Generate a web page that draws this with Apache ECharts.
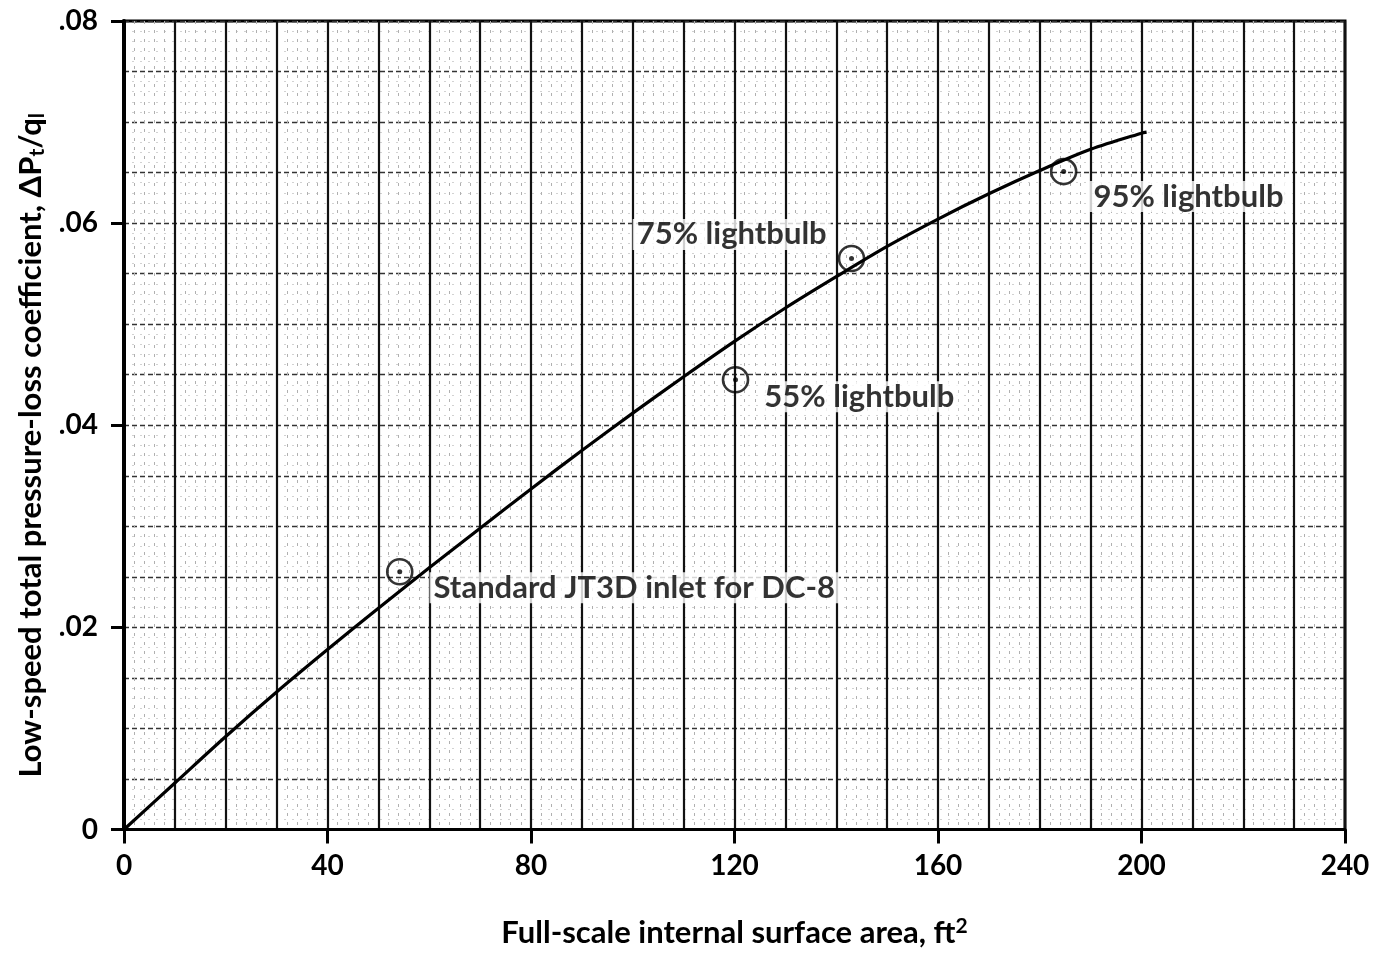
<!DOCTYPE html>
<html>
<head>
<meta charset="utf-8">
<script src="https://cdn.jsdelivr.net/npm/echarts@6/dist/echarts.min.js"></script>
<style>
html,body{margin:0;padding:0;background:#fff;}
#chart{width:1378px;height:955px;}
</style>
</head>
<body>
<div id="chart"></div>
<script>
// Curve
const curveX = [0,10,20,30,40,50,60,70,80,90,100,110,120,130,140,150,160,170,180,190,200,201];
const curveY = [0,0.0046,0.0092,0.0136,0.0178,0.0219,0.0259,0.0298,0.0337,0.0375,0.0412,0.0448,0.0483,0.0516,0.0547,0.0577,0.0604,0.0629,0.0652,0.0673,0.0689,0.0690];
// Data points
const pointNames = ['Standard JT3D inlet for DC-8','55% lightbulb','75% lightbulb','95% lightbulb'];
const pointX = [54.2, 120.2, 143.0, 184.7];
const pointY = [0.0255, 0.0445, 0.0565, 0.0651];
// Tick labels
const xTickLabels = ['0','40','80','120','160','200','240'];
const yTickLabels = ['0','.02','.04','.06','.08'];

const FONT = 'Lato';
const chart = echarts.init(document.getElementById('chart'), null, {renderer:'canvas'});

const labelCfg = [
  {position:'right', offset:[16,16]},
  {position:'right', offset:[11,17]},
  {position:'left', offset:[-7,-24]},
  {position:'right', offset:[12,25]}
];

const pts = pointX.map((x,i)=>({
  value:[x, pointY[i]],
  name: pointNames[i],
  label:{
    show:true,
    position: labelCfg[i].position,
    offset: labelCfg[i].offset,
    distance: 0,
    formatter: '{b}',
    fontFamily: FONT, fontWeight:'bold', fontSize:31, color:'#000',
    backgroundColor:'#fff', padding:[0,4,0,4]
  }
}));

chart.setOption({
  animation:false,
  backgroundColor:'#fff',
  grid:{left:124, right:33, top:21, bottom:125.5, show:true, borderColor:'#000', borderWidth:3, backgroundColor:'#fff'},
  xAxis:[
    {
      type:'value', min:0, max:240, interval:40,
      name:'Full-scale internal surface area, ft{sup|2}',
      nameLocation:'middle', nameGap:86,
      nameTextStyle:{fontFamily:FONT, fontWeight:'bold', fontSize:31, color:'#000',
        rich:{sup:{fontFamily:FONT, fontWeight:'bold', fontSize:21, color:'#000', verticalAlign:'top', padding:[0,0,14,0]}}},
      axisLine:{show:true, onZero:false, lineStyle:{color:'#000', width:3}},
      axisTick:{show:true, length:14, lineStyle:{color:'#000', width:3}},
      axisLabel:{margin:22, fontFamily:FONT, fontWeight:'bold', fontSize:28, color:'#000',
        formatter:v=>xTickLabels[Math.round(v/40)]},
      splitLine:{show:false}
    },
    {
      type:'value', min:0, max:240, interval:10, position:'bottom',
      axisLine:{show:false}, axisTick:{show:false}, axisLabel:{show:false},
      splitLine:{show:true, lineStyle:{color:'#111', width:2.2}},
      minorTick:{show:false, splitNumber:5},
      minorSplitLine:{show:true, lineStyle:{color:'#b0b0b0', width:1, type:[3,6]}}
    }
  ],
  yAxis:[
    {
      type:'value', min:0, max:0.08, interval:0.02,
      name:'Low-speed total pressure-loss coefficient, ΔP{sub|t}/q{sub|l}',
      nameLocation:'middle', nameGap:76, nameRotate:90,
      nameTextStyle:{fontFamily:FONT, fontWeight:'bold', fontSize:31, color:'#000', padding:[0,40,0,0],
        rich:{sub:{fontFamily:FONT, fontWeight:'bold', fontSize:21, color:'#000', verticalAlign:'bottom', padding:[13,0,0,0]}}},
      axisLine:{show:true, onZero:false, lineStyle:{color:'#000', width:4}},
      axisTick:{show:true, length:13, lineStyle:{color:'#000', width:3}},
      axisLabel:{margin:26, fontFamily:FONT, fontWeight:'bold', fontSize:28, color:'#000',
        formatter:v=>yTickLabels[Math.round(v/0.02)]},
      splitLine:{show:false}
    },
    {
      type:'value', min:0, max:0.08, interval:0.005, position:'left',
      axisLine:{show:false}, axisTick:{show:false}, axisLabel:{show:false},
      splitLine:{show:true, lineStyle:{color:'#333', width:1.3, type:[5,3]}},
      minorTick:{show:false, splitNumber:5},
      minorSplitLine:{show:true, lineStyle:{color:'#d2d2d2', width:1, type:[2,6]}}
    }
  ],
  series:[
    {
      type:'line', xAxisIndex:0, yAxisIndex:0, smooth:0.3, symbol:'none',
      lineStyle:{color:'#000', width:3.2},
      data: curveX.map((x,i)=>[x, curveY[i]]), z:3
    },
    {
      type:'scatter', xAxisIndex:0, yAxisIndex:0, symbol:'circle', symbolSize:25,
      itemStyle:{color:'rgba(0,0,0,0)', borderColor:'#000', borderWidth:2.6},
      data: pts, z:4
    },
    {
      type:'scatter', xAxisIndex:0, yAxisIndex:0, symbol:'circle', symbolSize:5,
      itemStyle:{color:'#000'},
      data: pointX.map((x,i)=>[x, pointY[i]]), z:5
    }
  ]
});
</script>
</body>
</html>
